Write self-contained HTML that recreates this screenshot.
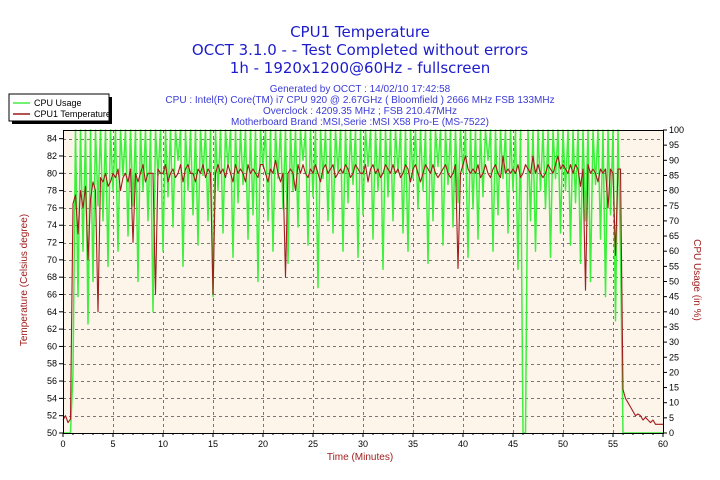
<!DOCTYPE html>
<html><head><meta charset="utf-8"><style>
html,body{margin:0;padding:0;background:#fff;width:720px;height:480px;overflow:hidden;font-family:"Liberation Sans",sans-serif}
</style></head><body>
<svg id="chart" width="720" height="480" xmlns="http://www.w3.org/2000/svg" font-family="Liberation Sans, sans-serif">
<rect x="0" y="0" width="720" height="480" fill="#ffffff"/>
<g fill="#1c1ccc" text-anchor="middle">
<g font-family="DejaVu Sans, sans-serif" font-size="15">
<text x="360" y="37">CPU1 Temperature</text>
<text x="360" y="55">OCCT 3.1.0 -  - Test Completed without errors</text>
<text x="360" y="73">1h - 1920x1200@60Hz - fullscreen</text>
</g>
<g font-size="10" fill="#3b3bd6">
<text x="360" y="92">Generated by OCCT : 14/02/10 17:42:58</text>
<text x="360" y="103">CPU : Intel(R) Core(TM) i7 CPU 920 @ 2.67GHz ( Bloomfield ) 2666 MHz FSB 133MHz</text>
<text x="360" y="114">Overclock : 4209.35 MHz ; FSB 210.47MHz</text>
<text x="360" y="125">Motherboard Brand :MSI,Serie :MSI X58 Pro-E (MS-7522)</text>
</g></g>
<g>
<rect x="12" y="97" width="100" height="27" fill="#000"/>
<rect x="9" y="94" width="100" height="27" fill="#fff" stroke="#000" stroke-width="1"/>
<line x1="13" y1="103" x2="30" y2="103" stroke="#44ee44" stroke-width="1.5"/>
<text x="34" y="106" font-size="9" fill="#000">CPU Usage</text>
<line x1="13" y1="114" x2="30" y2="114" stroke="#9b1a1a" stroke-width="1.5"/>
<text x="34" y="117" font-size="9" fill="#000">CPU1 Temperature</text>
</g>
<g id="plot"></g>
<text x="360" y="460" font-size="10" fill="#a02020" text-anchor="middle">Time (Minutes)</text>
<text transform="translate(27,280) rotate(-90)" font-size="10" fill="#a02020" text-anchor="middle">Temperature (Celsius degree)</text>
<text transform="translate(694,280) rotate(90)" font-size="10" fill="#a02020" text-anchor="middle">CPU Usage (in %)</text>
</svg>
<script>
const startMinute = 0;
const stepMinutes = 0.25;
const xTicks = [0,5,10,15,20,25,30,35,40,45,50,55,60];
const tempTicks = [50,52,54,56,58,60,62,64,66,68,70,72,74,76,78,80,82,84];
const usageTicks = [0,5,10,15,20,25,30,35,40,45,50,55,60,65,70,75,80,85,90,95,100];
const temperature = [
51.5,52,51.2,51.6,
76.5,77.5,73,78,
76,78.5,70,77,
79,78,64,79.5,
79,80,78.5,79,
80,79.5,80.5,78,
79.5,80,79,80.5,
72,80,79,80,
81,79,80,80,
80,66,80.5,80,
80,81,79,80,
80.5,79.5,80,81,
79,80.5,81,80,
80,79,80.5,80,
81,79.5,80.5,80,
66,80,81,80,
80.5,79.5,81,80,
79,81,80,80.5,
80,79,81,80,
80.5,80,79.5,81,
81,80,79,80.5,
80,81.5,80,79,
80,68,80,80.5,
80,78,81,80,
81,80,79.5,80.5,
80,81,80,79,
80.5,81,80,80.5,
81,79.5,80,80.5,
80,81,80.5,79.5,
80,81,80.5,80,
80,81,79,80.5,
81,80,80.5,79.5,
80,81,80.5,80,
81,80,80.5,79.5,
80,81,80.5,79,
80.5,81,80,79,
80,81,80.5,80,
81,80,79.5,80,
80.5,81,80,79.5,
80,81,69,80,
81,82,80.5,80,
80.5,80,81,79.5,
80,81,80,79.5,
80.5,81,80,79.5,
82,80,80.5,80,
80.5,80,81,79.5,
80,81,80.5,80,
82,80,81,80,
79.5,80,81,80.5,
80,81,82,80.5,
81,80.5,80,81,
80,81,80.5,78.5,
80.5,66.5,81,80,
80.5,80,79,80.5,
80,80.5,76,80.5,
80,70.5,80.5,80.5,
55,54,53.5,53,
52.5,52,52.2,52,
51.5,51.8,51.5,51.2,
51.5,51,51,51,
51];
const cpuUsage = [
0,0,0,0,20,100,45,100,
60,100,36,100,50,100,75,100,
70,100,55,100,80,100,60,100,
85,100,65,100,75,100,50,100,
80,100,70,100,40,100,85,100,
60,100,78,100,68,100,90,100,
55,100,80,100,72,100,62,100,
85,100,70,100,45,100,80,100,
66,100,88,100,58,100,76,100,
82,100,64,100,72,100,50,100,
88,100,70,100,60,100,84,100,
74,100,56,100,80,100,68,100,
90,100,62,100,78,100,48,100,
84,100,70,100,66,100,86,100,
60,100,76,100,82,100,58,100,
72,100,88,100,64,100,80,100,
54,100,78,100,70,100,86,100,
66,100,60,100,84,100,74,100,
80,100,56,100,70,100,88,100,
62,100,82,100,68,100,76,100,
86,100,58,100,74,100,64,100,
78,100,90,100,60,100,72,100,
84,100,66,100,80,100,54,100,
0,0,100,70,100,60,100,80,
100,74,100,58,100,84,100,66,
100,80,100,62,100,76,100,56,
100,70,100,50,100,82,100,64,
100,45,100,72,100,37,100,60,
0,0,0,0,0,0,0,0,0,0,0,0,0,0,0,0,0];

const L=63,R=663,T=130,B=433;
const X=v=>L+(v-0)/(60-0)*(R-L);
const YT=v=>B-(v-50)/(85-50)*(B-T);
const YU=v=>B-(v-0)/(100-0)*(B-T);
const NS='http://www.w3.org/2000/svg';
const plot=document.getElementById('plot');
function mk(tag,attrs,parent){const e=document.createElementNS(NS,tag);for(const k in attrs)e.setAttribute(k,attrs[k]);(parent||plot).appendChild(e);return e;}

const bg=mk('rect',{x:L,y:T,width:R-L,height:B-T,fill:'#fdf5ea'});



const grid=mk('g',{stroke:'#777',"stroke-width":1,"stroke-dasharray":'3,3',fill:'none'});


tempTicks.forEach(v=>{if(v>50){const y=Math.round(YT(v))+0.5;mk('line',{x1:L,x2:R,y1:y,y2:y},grid);}});
xTicks.forEach(v=>{if(v>0&&v<60){const x=Math.round(X(v))+0.5;mk('line',{x1:x,x2:x,y1:T,y2:B},grid);}});

function series(vals,yf,color,name,w){
  let d='';
  vals.forEach((v,i)=>{const t=startMinute+i*stepMinutes;d+=(i?'L':'M')+X(t).toFixed(1)+' '+yf(v).toFixed(1);});
  const p=mk('path',{d:d,fill:'none',stroke:color,"stroke-width":w,"stroke-linejoin":'round'});
  
  
}
series(cpuUsage,YU,'#3ef03e','cpu-usage-line',1.5);
series(temperature,YT,'#a11c1c','cpu-temperature-line',1.1);

const ax=mk('g',{stroke:'#000',"stroke-width":1});


mk('rect',{x:L+0.5,y:T+0.5,width:R-L,height:B-T,fill:'none'},ax);

const lab=mk('g',{"font-size":9,fill:'#000'});


tempTicks.forEach(v=>{const y=YT(v);mk('line',{x1:L-4,x2:L,y1:y,y2:y},ax);
  const t=mk('text',{x:L-6,y:y+3,"text-anchor":'end'},lab);t.textContent=v;
  
  });
usageTicks.forEach(v=>{const y=YU(v);mk('line',{x1:R,x2:R+4,y1:y,y2:y},ax);
  const t=mk('text',{x:R+6,y:y+3,"text-anchor":'start'},lab);t.textContent=v;
  
  });
for(let m=0;m<=60;m++){const x=X(m);mk('line',{x1:x,x2:x,y1:B,y2:B+(m%5?2:4)},ax);}
xTicks.forEach(v=>{const t=mk('text',{x:X(v),y:B+14,"text-anchor":'middle'},lab);t.textContent=v;
  
  });
</script>
</body></html>
